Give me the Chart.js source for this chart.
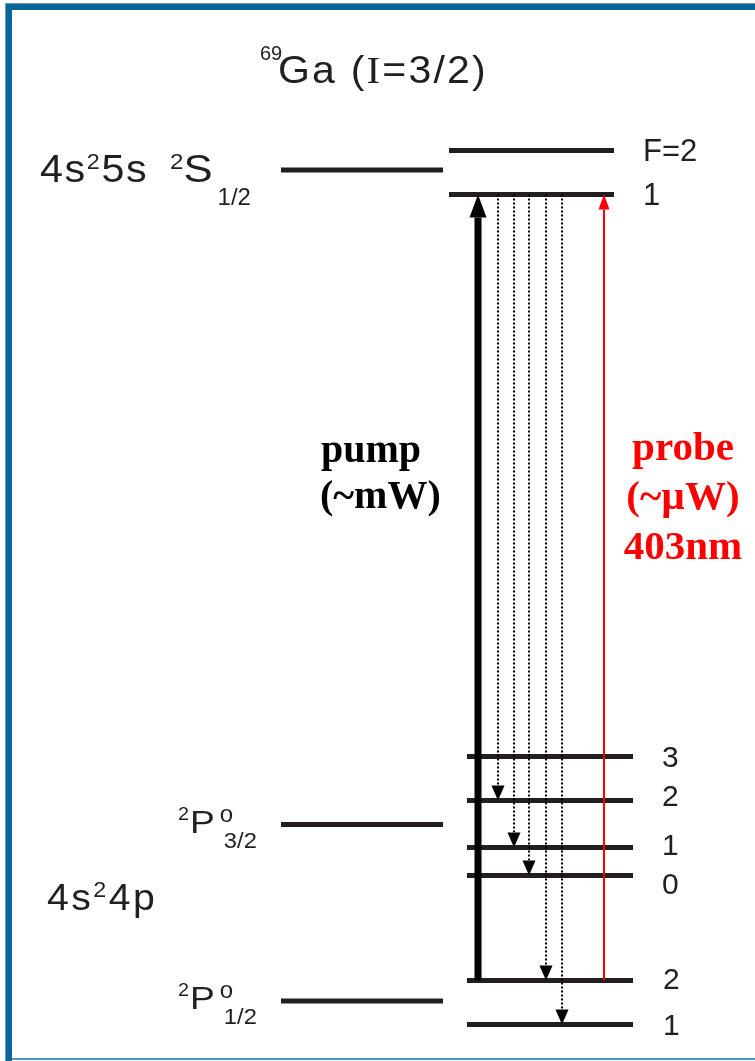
<!DOCTYPE html>
<html>
<head>
<meta charset="utf-8">
<script src="https://cdn.jsdelivr.net/npm/chart.js@4.4.1/dist/chart.umd.min.js"></script>
<style>
  html, body { margin: 0; padding: 0; background: #fff; }
  canvas { display: block; }
</style>
</head>
<body>
<canvas id="diagram" width="755" height="1061"></canvas>
<script>
// 69Ga level scheme, energies in arbitrary (not to scale) units
const FINE_NAMES = ['2S1/2', '2P3/2', '2P1/2'];
const FINE_E = [891, 236.5, 60];
const S_F = [2, 1];
const S_E = [910.5, 866.5];
const P32_F = [3, 2, 1, 0];
const P32_E = [304.5, 260.5, 213.5, 185.5];
const P12_F = [2, 1];
const P12_E = [80.5, 36.5];
// spontaneous decay from the pumped S1/2 F=1 level
const DECAY_TO = [P32_E[1], P32_E[2], P32_E[3], P12_E[0], P12_E[1]];

// horizontal layout (px along x axis)
const COL_FINE = [281, 443];
const COL_S = [449, 614];
const COL_P = [467, 633];
const PUMP_X = 478, PROBE_X = 604;
const DECAY_X = [498, 514, 529, 546, 562];
const P32_LABEL_NUDGE = [0, -5, -3, 8];
const P12_LABEL_NUDGE = [-2, 0];

const INK = '#231f20';
const RED = '#ff0000';
const SANS = '"Liberation Sans", Arial, sans-serif';
const SERIF = '"Liberation Serif", "Times New Roman", serif';

function level(E, col) {
  return { data: [{x: col[0], y: E}, {x: col[1], y: E}], borderColor: INK, borderWidth: 5,
           pointRadius: 0, borderCapStyle: 'butt', fill: false };
}
function arrow(x, from, to, color, width, head, dash) {
  return { data: [{x, y: from}, {x, y: to}], borderColor: color, borderWidth: width,
           borderDash: dash || [], pointRadius: 0, borderCapStyle: 'butt', fill: false, arrow: head };
}

const datasets = [];
// arrows first so they sit on top of the levels
datasets.push(arrow(PROBE_X, P12_E[0], S_E[1], RED, 2, {len: 15, w: 11}));
datasets.push(arrow(PUMP_X, P12_E[0], S_E[1], '#000', 7, {len: 23, w: 17}));
DECAY_X.forEach((x, i) => datasets.push(arrow(x, S_E[1], DECAY_TO[i], '#000', 2, {len: 15, w: 13}, [2, 2])));
FINE_E.forEach(E => datasets.push(level(E, COL_FINE)));
S_E.forEach(E => datasets.push(level(E, COL_S)));
P32_E.forEach(E => datasets.push(level(E, COL_P)));
P12_E.forEach(E => datasets.push(level(E, COL_P)));

// frame round the figure
const framePlugin = {
  id: 'frame',
  beforeDraw(chart) {
    const ctx = chart.ctx, W = chart.width, H = chart.height;
    ctx.save();
    ctx.fillStyle = '#fff';
    ctx.fillRect(0, 0, W, H);
    ctx.fillStyle = '#5e9dc6';
    ctx.fillRect(5, 3, W - 5, 1);
    ctx.fillRect(5, 3, 1, H - 3);
    ctx.fillStyle = '#0b6598';
    ctx.fillRect(6, 4, W - 6, 6);
    ctx.fillRect(6, 4, 6, H - 4);
    ctx.fillStyle = '#4a95c4';
    ctx.fillRect(12, H - 3, W - 12, 2);
    ctx.restore();
  }
};

// arrowheads: clip the shaft under the head, then fill the head
const arrowPlugin = {
  id: 'arrowheads',
  beforeDatasetDraw(chart, args) {
    const ds = chart.data.datasets[args.index];
    if (!ds.arrow) return;
    const pts = args.meta.data, a = pts[0], b = pts[pts.length - 1];
    const dir = Math.sign(b.y - a.y);
    const base = b.y - dir * ds.arrow.len;
    const ctx = chart.ctx;
    ctx.save();
    ctx.beginPath();
    if (dir < 0) ctx.rect(0, base, chart.width, chart.height);
    else ctx.rect(0, 0, chart.width, base);
    ctx.clip();
  },
  afterDatasetDraw(chart, args) {
    const ds = chart.data.datasets[args.index];
    if (!ds.arrow) return;
    const ctx = chart.ctx;
    ctx.restore();
    const pts = args.meta.data, a = pts[0], b = pts[pts.length - 1];
    const dir = Math.sign(b.y - a.y);
    const base = b.y - dir * ds.arrow.len;
    ctx.save();
    ctx.fillStyle = ds.borderColor;
    ctx.beginPath();
    ctx.moveTo(b.x, b.y);
    ctx.lineTo(b.x - ds.arrow.w / 2, base);
    ctx.lineTo(b.x + ds.arrow.w / 2, base);
    ctx.closePath();
    ctx.fill();
    ctx.restore();
  }
};

// text runs with super/subscripts
// sx = horizontal stretch, ls = letter spacing, keep = do not advance the pen
function runs(ctx, x, y, list) {
  let cx = x;
  for (const r of list) {
    const sx = r.sx || 1;
    ctx.font = r.f;
    ctx.letterSpacing = (r.ls || 0) + 'px';
    ctx.save();
    ctx.translate(cx + (r.dx || 0), y + (r.dy || 0));
    ctx.scale(sx, 1);
    ctx.fillText(r.t, 0, 0);
    ctx.restore();
    if (!r.keep) cx += ctx.measureText(r.t).width * sx + (r.dx || 0);
    ctx.letterSpacing = '0px';
  }
}

const textPlugin = {
  id: 'labels',
  afterDraw(chart) {
    const ctx = chart.ctx, xs = chart.scales.x, ys = chart.scales.y;
    const Y = v => ys.getPixelForValue(v), X = v => xs.getPixelForValue(v);
    ctx.save();
    ctx.fillStyle = INK;
    ctx.textAlign = 'left';
    ctx.textBaseline = 'alphabetic';

    // title
    runs(ctx, 260, 60, [{t: '69', f: `20px ${SANS}`}]);
    runs(ctx, 278, 83, [
      {t: 'Ga (', f: `38px ${SANS}`, sx: 1.08, ls: 2},
      {t: 'I', f: `38px ${SERIF}`, sx: 1.08, ls: 2},
      {t: '=3/2)', f: `38px ${SANS}`, sx: 1.08, ls: 2}
    ]);

    // configurations and terms
    const yS = Y(FINE_E[0]);
    runs(ctx, 40, yS + 12, [
      {t: '4s', f: `39px ${SANS}`, sx: 1.06, ls: 1.5},
      {t: '2', f: `22px ${SANS}`, dy: -13, sx: 1.06, ls: 1.5},
      {t: '5s', f: `39px ${SANS}`, sx: 1.06, ls: 1.5}
    ]);
    runs(ctx, 170, yS + 12, [
      {t: '2', f: `22px ${SANS}`, dy: -13, sx: 1.1},
      {t: 'S', f: `39px ${SANS}`, sx: 1.12},
      {t: '1/2', f: `24px ${SANS}`, dx: 5, dy: 23}
    ]);
    runs(ctx, 47, 910, [
      {t: '4s', f: `37px ${SANS}`, sx: 1.06, ls: 2.3},
      {t: '2', f: `22px ${SANS}`, dy: -13, sx: 1.06, ls: 2.3},
      {t: '4p', f: `37px ${SANS}`, sx: 1.06, ls: 2.3}
    ]);
    [[1, '3/2'], [2, '1/2']].forEach(([i, j]) => {
      const yP = Y(FINE_E[i]);
      runs(ctx, 178, yP + 8, [
        {t: '2', f: `18px ${SANS}`, dy: -13, sx: 1.1},
        {t: 'P', f: `31px ${SANS}`, dx: 1, sx: 1.2},
        {t: 'o', f: `24px ${SANS}`, dx: 5, dy: -11, keep: true},
        {t: j, f: `22px ${SANS}`, dx: 9, dy: 15, sx: 1.08}
      ]);
    });

    // hyperfine F labels
    ctx.font = `31px ${SANS}`;
    S_F.forEach((F, i) => ctx.fillText(i === 0 ? 'F=' + F : String(F), X(COL_S[1]) + 29, Y(S_E[i]) + 10));
    ctx.font = `30px ${SANS}`;
    P32_F.forEach((F, i) => ctx.fillText(String(F), X(COL_P[1]) + 29, Y(P32_E[i]) + P32_LABEL_NUDGE[i] + 10.5));
    P12_F.forEach((F, i) => ctx.fillText(String(F), X(COL_P[1]) + 30, Y(P12_E[i]) + P12_LABEL_NUDGE[i] + 10.5));

    // laser labels
    ctx.font = `bold 40px ${SERIF}`;
    ctx.fillStyle = '#000';
    ctx.fillText('pump', 321, 462);
    ctx.fillText('(~mW)', 320, 508);
    ctx.font = `bold 41px ${SERIF}`;
    ctx.fillStyle = RED;
    ctx.textAlign = 'center';
    ctx.fillText('probe', 683, 460);
    ctx.fillText('(~\u00b5W)', 683, 509);
    ctx.fillText('403nm', 683, 559);
    ctx.restore();
  }
};

new Chart(document.getElementById('diagram'), {
  type: 'line',
  data: { datasets },
  options: {
    responsive: false,
    animation: false,
    devicePixelRatio: 1,
    events: [],
    layout: { padding: 0 },
    plugins: { legend: { display: false }, tooltip: { enabled: false } },
    scales: {
      x: { type: 'linear', min: 0, max: 755, display: false },
      y: { type: 'linear', min: 0, max: 1061, display: false }
    }
  },
  plugins: [framePlugin, arrowPlugin, textPlugin]
});
</script>
</body>
</html>
